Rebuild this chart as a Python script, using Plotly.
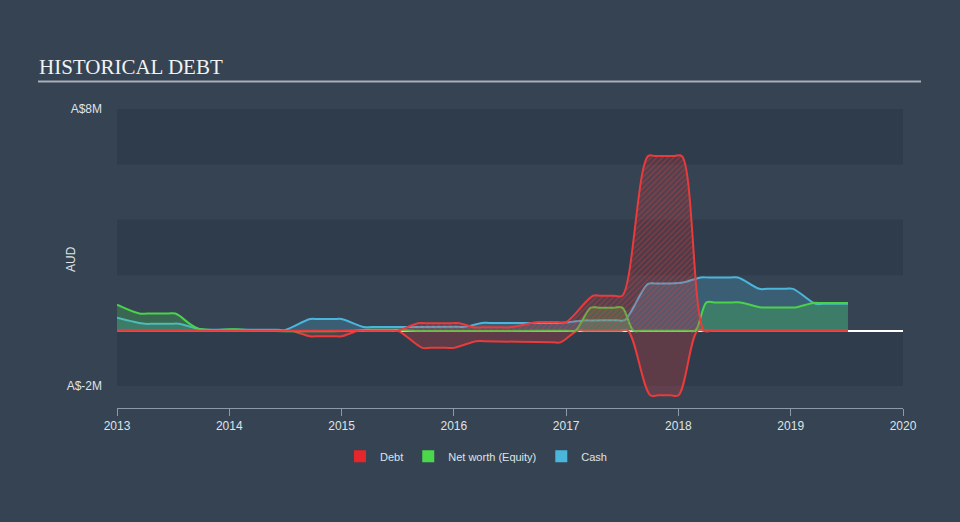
import plotly.graph_objects as go

# ---- data (A$ millions, x in decimal years) ----
cash_x = [2013.0, 2013.25, 2013.32, 2013.48, 2013.55, 2013.75, 2014.0, 2014.43, 2014.5, 2014.72, 2014.79,
          2014.93, 2015.0, 2015.2, 2015.27, 2016.03, 2016.1, 2016.25, 2016.32, 2016.88, 2016.95, 2017.16,
          2017.23, 2017.45, 2017.52, 2017.73, 2017.8, 2018.03, 2018.2, 2018.27, 2018.46, 2018.53, 2018.72,
          2018.79, 2018.95, 2019.02, 2019.22, 2019.29, 2019.51]
cash_y = [0.47, 0.25, 0.25, 0.25, 0.25, 0.05, 0.04, 0.03, 0.03, 0.42, 0.42,
          0.42, 0.42, 0.13, 0.13, 0.14, 0.14, 0.28, 0.28, 0.28, 0.28, 0.37,
          0.37, 0.38, 0.38, 1.69, 1.70, 1.73, 1.92, 1.92, 1.92, 1.92, 1.51,
          1.51, 1.51, 1.51, 0.97, 0.97, 0.97]

equity_x = [2013.0, 2013.2, 2013.27, 2013.45, 2013.52, 2013.72, 2014.05, 2014.3, 2015.1, 2015.22, 2015.29,
            2015.45, 2015.52, 2015.62, 2017.01, 2017.08, 2017.22, 2017.29, 2017.43, 2017.5, 2017.6, 2017.67,
            2018.08, 2018.15, 2018.25, 2018.32, 2018.48, 2018.55, 2018.74, 2018.81, 2018.97, 2019.04,
            2019.2, 2019.27, 2019.51]
equity_y = [0.94, 0.62, 0.62, 0.62, 0.62, 0.08, 0.05, 0.0, 0.0, 0.03, 0.03,
            0.03, 0.03, 0.0, 0.0, 0.0, 0.83, 0.83, 0.83, 0.83, 0.0, 0.0,
            0.0, 0.0, 1.02, 1.02, 1.02, 1.02, 0.84, 0.84, 0.84, 0.84,
            1.0, 1.0, 1.0]

debt_x = [2013.0, 2015.43, 2015.5, 2015.68, 2015.75, 2015.98, 2016.05, 2016.18, 2016.25, 2016.43, 2016.5,
          2016.75, 2016.82, 2016.93, 2017.0, 2017.24, 2017.31, 2017.43, 2017.5,
          2017.73, 2017.8, 2017.96, 2018.03, 2018.23, 2018.3, 2019.51]
debt_y = [0.0, 0.0, 0.0, 0.27, 0.27, 0.27, 0.27, 0.12, 0.12, 0.12, 0.12,
          0.31, 0.31, 0.31, 0.31, 1.26, 1.26, 1.26, 1.26,
          6.3, 6.3, 6.3, 6.3, 0.0, 0.0, 0.0]

debt_low_x = [2013.0, 2014.48, 2014.55, 2014.72, 2014.79, 2014.93, 2015.0, 2015.15, 2015.22, 2015.43, 2015.5,
              2015.72, 2015.79, 2015.93, 2016.0, 2016.2, 2016.27, 2016.88, 2016.95, 2017.1, 2017.17,
              2017.48, 2017.55, 2017.75, 2017.82, 2017.93, 2018.0, 2018.17, 2018.24, 2019.51]
debt_low_y = [0.0, 0.0, 0.0, -0.2, -0.2, -0.2, -0.2, 0.0, 0.0, 0.0, 0.0,
              -0.62, -0.62, -0.62, -0.62, -0.38, -0.38, -0.42, -0.42, 0.0, 0.0,
              0.0, 0.0, -2.33, -2.33, -2.33, -2.33, 0.0, 0.0, 0.0]

years = [2013, 2014, 2015, 2016, 2017, 2018, 2019, 2020]
ytick_vals = [8, -2]
ytick_text = ["A$8M", "A$-2M"]

RED = "#e93b3b"
GREEN = "#4ad24a"
BLUE = "#4bb5dc"
BG = "#354353"
BAND = "#2f3c4b"
TXT = "#dfe3e7"

fig = go.Figure()

sp = dict(shape="spline", smoothing=1.0, width=2)

fig.add_trace(go.Scatter(x=debt_low_x, y=debt_low_y, mode="lines", fill="tozeroy",
                         line=dict(color=RED, **sp), fillcolor="rgba(233,59,59,0.25)",
                         showlegend=False, hoverinfo="skip"))
fig.add_trace(go.Scatter(x=cash_x, y=cash_y, mode="lines", fill="tozeroy",
                         line=dict(color=BLUE, **sp), fillcolor="rgba(75,181,220,0.25)",
                         showlegend=False, hoverinfo="skip"))
fig.add_trace(go.Scatter(x=equity_x, y=equity_y, mode="lines", fill="tozeroy",
                         line=dict(color=GREEN, **sp), fillcolor="rgba(74,210,74,0.25)",
                         showlegend=False, hoverinfo="skip"))
fig.add_trace(go.Scatter(x=debt_x, y=debt_y, mode="lines", fill="tozeroy",
                         line=dict(color=RED, **sp),
                         fillpattern=dict(shape="/", fgcolor="rgba(233,59,59,0.8)",
                                          bgcolor="rgba(233,59,59,0.16)", size=4, solidity=0.3),
                         showlegend=False, hoverinfo="skip"))

# legend entries
for name, col in [("Debt", "#e5262a"), ("Net worth (Equity)", "#4bd94b"), ("Cash", "#4ab6dc")]:
    fig.add_trace(go.Bar(x=[None], y=[None], name=name, marker=dict(color=col, line=dict(width=0))))

# background bands
for y0, y1 in [(6, 8), (2, 4), (-2, 0)]:
    fig.add_shape(type="rect", xref="paper", x0=0, x1=1, yref="y", y0=y0, y1=y1,
                  fillcolor=BAND, line_width=0, layer="below")

PT, PH, PL, PW = 109, 299, 117, 786
# title underline
uy = 1 + (PT - 81.5) / PH
fig.add_shape(type="line", xref="paper", yref="paper", x0=(38 - PL) / PW, x1=(921 - PL) / PW,
              y0=uy, y1=uy, line=dict(color="#a9b0b8", width=2))

fig.add_annotation(text="AUD", xref="paper", yref="paper", x=(71 - PL) / PW, y=1 - (259 - PT) / PH,
                   textangle=-90, showarrow=False, font=dict(size=12, color=TXT),
                   xanchor="center", yanchor="middle")

fig.update_layout(
    width=960, height=522,
    paper_bgcolor=BG, plot_bgcolor=BG,
    margin=dict(l=PL, r=960 - PL - PW, t=PT, b=522 - PT - PH),
    font=dict(family="Liberation Sans, Arial, sans-serif", color=TXT, size=12),
    title=dict(text="HISTORICAL DEBT", x=39 / 960, xanchor="left", y=1 - 67 / 522, yanchor="middle",
               font=dict(family="Liberation Serif, Times New Roman, serif", size=21, color="#f2f2f2")),
    showlegend=True,
    legend=dict(orientation="h", x=(476 - PL) / PW, xanchor="center", y=-0.113, yanchor="top",
                font=dict(size=11, color=TXT), bgcolor="rgba(0,0,0,0)", itemwidth=30),
    barmode="overlay",
    xaxis=dict(range=[2013, 2020], tickvals=years, ticktext=[str(y) for y in years],
               showgrid=False, zeroline=False, showline=True, linecolor="#8c9aa8", linewidth=1,
               ticks="outside", ticklen=7, tickcolor="#8c9aa8", tickfont=dict(size=12, color=TXT)),
    yaxis=dict(range=[-2.79, 8.0], tickvals=ytick_vals, ticktext=ytick_text, showgrid=False,
               zeroline=True, zerolinecolor="#ffffff", zerolinewidth=1.5,
               ticks="", ticklabelstandoff=14, tickfont=dict(size=12, color=TXT)),
)

fig.write_html("out.html")
